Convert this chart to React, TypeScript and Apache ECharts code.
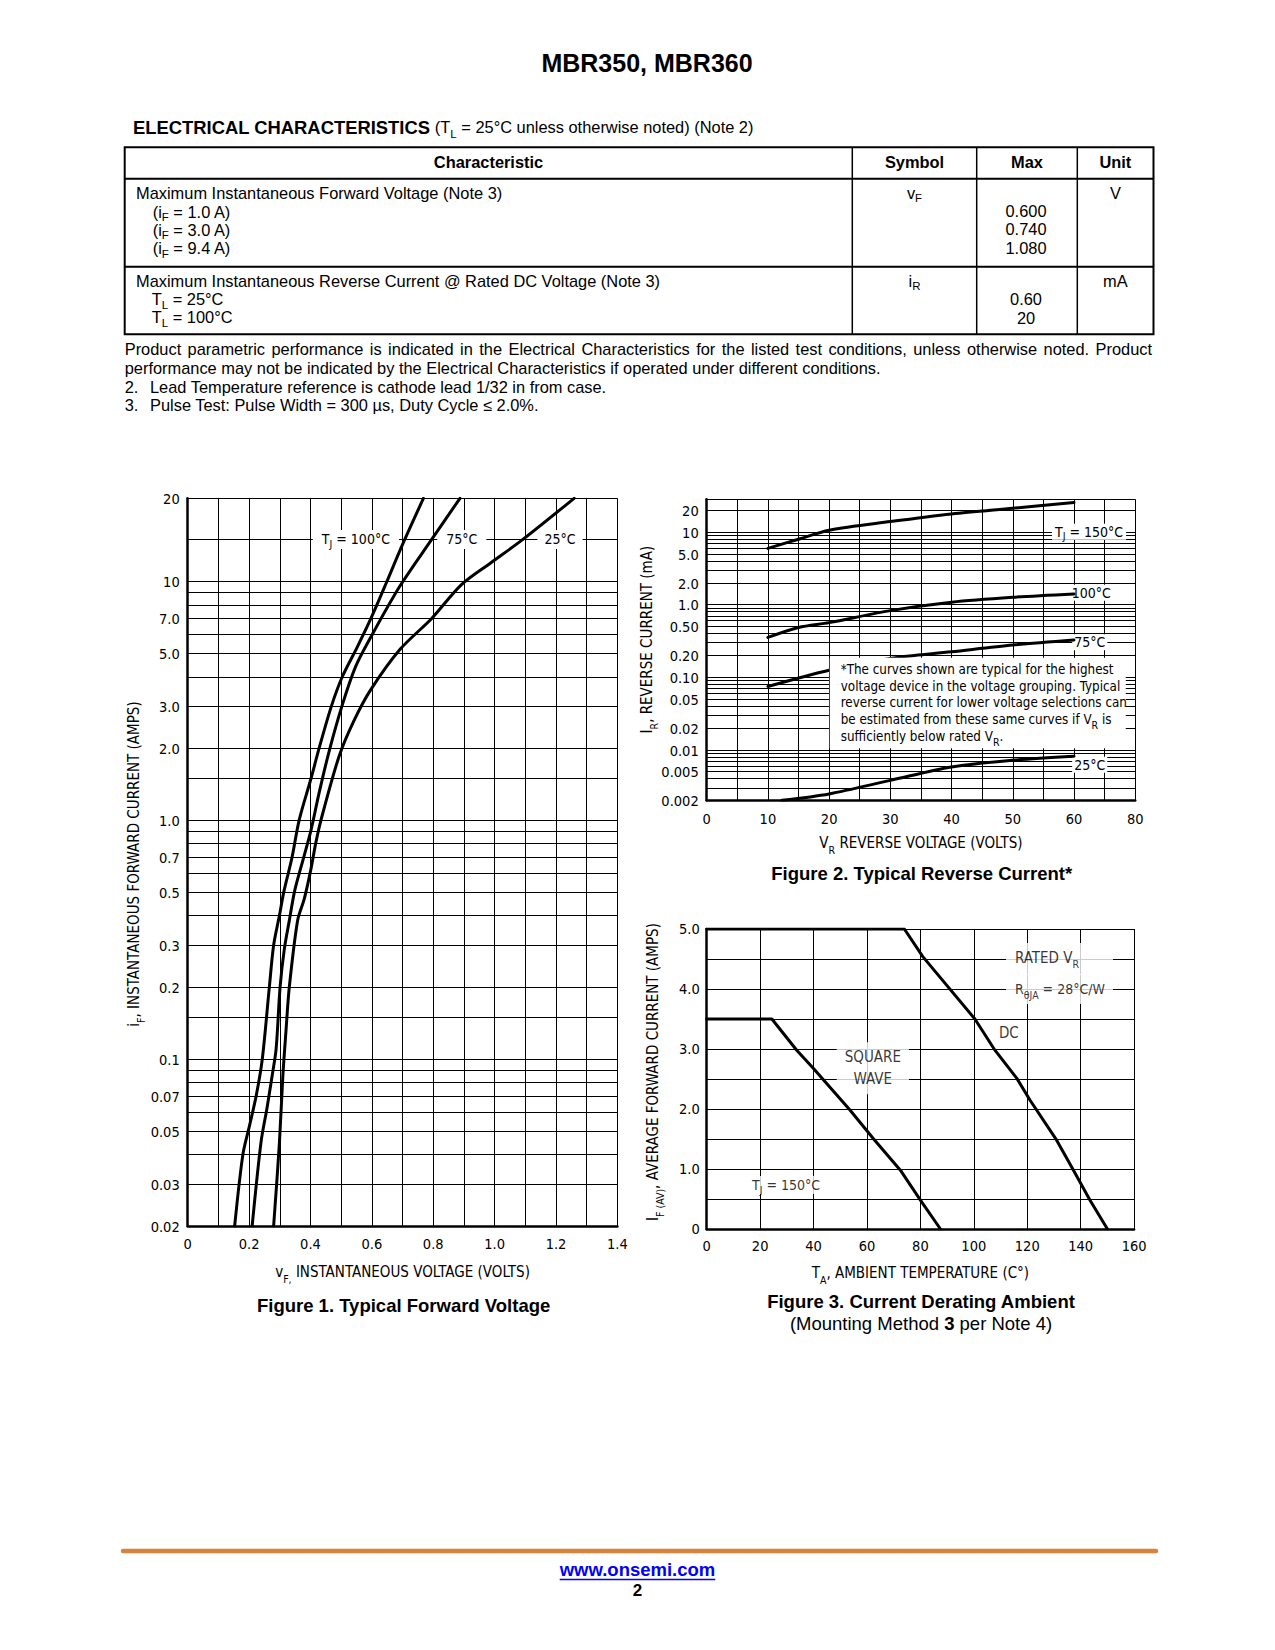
import React, { useEffect, useRef } from "react";
import * as echarts from "echarts";

const SANS = "'Liberation Sans', Arial, Helvetica, sans-serif";
const NARROW = "'DejaVu Sans Condensed', 'Liberation Sans', sans-serif";
const TICK_SIZE = 14.5;
const NOTE_SIZE = 14;
const BOX_NOTE_SIZE = 13.3;
const TITLE_SIZE = 15;

// ---------- Figure 1: Typical Forward Voltage ----------
const fwdVoltTickLabels = ["0", "0.2", "0.4", "0.6", "0.8", "1.0", "1.2", "1.4"];
const fwdCurrAxisTop = 22.3; // top border of the printed grid (labelled "20")
const fwdCurrGridValues = [0.02, 0.03, 0.04, 0.05, 0.06, 0.07, 0.08, 0.09, 0.1, 0.15, 0.2, 0.3, 0.4, 0.5, 0.6, 0.7, 0.8, 0.9, 1, 1.5, 2, 3, 4, 5, 6, 7, 8, 9, 10, 15, fwdCurrAxisTop];
const fwdCurrTickValues = [fwdCurrAxisTop, 10, 7, 5, 3, 2, 1, 0.7, 0.5, 0.3, 0.2, 0.1, 0.07, 0.05, 0.03, 0.02];
const fwdCurrTickLabels = ["20", "10", "7.0", "5.0", "3.0", "2.0", "1.0", "0.7", "0.5", "0.3", "0.2", "0.1", "0.07", "0.05", "0.03", "0.02"];
const vfTj100 = [[0.153, 0.02], [0.18, 0.04], [0.202, 0.053], [0.223, 0.07], [0.243, 0.1], [0.266, 0.2], [0.28, 0.3], [0.299, 0.4], [0.313, 0.5], [0.34, 0.7], [0.363, 1.0], [0.402, 1.5], [0.428, 2], [0.468, 3], [0.504, 4], [0.552, 5.3], [0.597, 7], [0.649, 10], [0.698, 14.1], [0.768, 22.3]];
const vfTj75 = [[0.21, 0.02], [0.239, 0.045], [0.258, 0.062], [0.275, 0.085], [0.288, 0.11], [0.301, 0.2], [0.315, 0.29], [0.331, 0.38], [0.349, 0.51], [0.378, 0.7], [0.401, 0.9], [0.428, 1.3], [0.461, 1.95], [0.504, 3.05], [0.547, 4.4], [0.595, 5.8], [0.69, 9.5], [0.795, 15], [0.887, 22.3]];
const vfTj25 = [[0.28, 0.02], [0.299, 0.045], [0.31, 0.085], [0.32, 0.13], [0.331, 0.2], [0.358, 0.38], [0.38, 0.47], [0.401, 0.62], [0.417, 0.8], [0.434, 1.0], [0.493, 1.85], [0.541, 2.6], [0.595, 3.5], [0.692, 5.2], [0.795, 7], [0.892, 9.7], [0.989, 12], [1.092, 15], [1.259, 22.3]];

// ---------- Figure 2: Typical Reverse Current ----------
const revVoltTickValues = [0, 10, 20, 30, 40, 50, 60, 70];
const revVoltTickLabels = ["0", "10", "20", "30", "40", "50", "60", "80"];
const revCurrAxisTop = 28;
const revCurrGridValues = [0.002, 0.003, 0.004, 0.005, 0.006, 0.007, 0.008, 0.009, 0.01, 0.02, 0.03, 0.04, 0.05, 0.06, 0.07, 0.08, 0.09, 0.1, 0.2, 0.3, 0.4, 0.5, 0.6, 0.7, 0.8, 0.9, 1, 2, 3, 4, 5, 6, 7, 8, 9, 10, 20, revCurrAxisTop];
const revCurrTickValues = [20, 10, 5, 2, 1, 0.5, 0.2, 0.1, 0.05, 0.02, 0.01, 0.005, 0.002];
const revCurrTickLabels = ["20", "10", "5.0", "2.0", "1.0", "0.50", "0.20", "0.10", "0.05", "0.02", "0.01", "0.005", "0.002"];
const irTj150 = [[10, 5.9], [15, 7.9], [20, 10.5], [30, 13.8], [40, 17.6], [50, 21.1], [60, 25.3]];
const irTj100 = [[10, 0.35], [15, 0.48], [20, 0.56], [30, 0.82], [40, 1.07], [50, 1.25], [60, 1.39]];
const irTj75 = [[10, 0.074], [20, 0.124], [30, 0.18], [40, 0.222], [50, 0.275], [60, 0.323]];
const irTj25 = [[12.3, 0.002], [20, 0.00245], [30, 0.00376], [40, 0.00575], [50, 0.00713], [60, 0.0081]];

// ---------- Figure 3: Current Derating, Ambient ----------
const derateCurrTickLabels = ["0", "1.0", "2.0", "3.0", "4.0", "5.0"];
const derateDC = [[0, 5], [74, 5], [80.9, 4.54], [100.4, 3.5], [107.9, 2.98], [116.1, 2.51], [121, 2.15], [131, 1.48], [137.3, 0.98], [143.5, 0.48], [150, 0]];
const derateSquare = [[0, 3.5], [24.4, 3.5], [33.7, 2.98], [39.9, 2.68], [53.7, 1.98], [62.5, 1.5], [72.5, 0.98], [80, 0.48], [87.5, 0]];

// z-order of the layers inside the plots
const Z_GRID = 1;
const Z_LABEL = 10;
const Z_CURVE = 12;
const Z_NOTE = 14;

let measureCtx: CanvasRenderingContext2D | null = null;
function textWidth(s: string, font: string): number {
  if (!measureCtx) measureCtx = document.createElement("canvas").getContext("2d");
  if (!measureCtx) return s.length * 8;
  measureCtx.font = font;
  return measureCtx.measureText(s).width;
}

const narrowRich = { s: { fontFamily: NARROW, fontSize: 10.5, color: "#000", verticalAlign: "bottom", padding: [0, 0, -2, 0] } };

function T(x: number, y: number, text: string, o: any = {}) {
  return {
    type: "text",
    x,
    y,
    silent: true,
    rotation: o.rot || 0,
    style: {
      text,
      fill: o.fill || "#000",
      fontFamily: o.family || SANS,
      fontSize: o.size || 16.4,
      fontWeight: o.weight || "normal",
      align: o.align || "left",
      textAlign: o.align || "left",
      verticalAlign: "middle",
      textVerticalAlign: "middle",
      lineHeight: o.lh,
      rich: o.rich,
    },
  };
}

const tblRich = {
  s: { fontFamily: SANS, fontSize: 11.5, fill: "#000", verticalAlign: "bottom", padding: [0, 0, -1.5, 0] },
  b: { fontFamily: SANS, fontSize: 18.4, fontWeight: "bold", fill: "#000" },
};
const axRich = {
  s: { fontFamily: NARROW, fontSize: 10.5, fill: "#000", verticalAlign: "bottom", padding: [0, 0, -2, 0] },
};
const capRich = { b: { fontFamily: SANS, fontSize: 18.5, fontWeight: "bold", fill: "#000" } };

function justified(x0: number, x1: number, y: number, text: string, size: number) {
  const font = `${size}px ${SANS}`;
  const natural = textWidth(text, font);
  if (natural >= x1 - x0 - 1) return [T(x0, y, text, { size })];
  const words = text.split(" ");
  const widths = words.map((w) => textWidth(w, font));
  const total = widths.reduce((a, b) => a + b, 0);
  const gap = (x1 - x0 - total) / (words.length - 1);
  let x = x0;
  return words.map((w, i) => {
    const el = T(x, y, w, { size });
    x += widths[i] + gap;
    return el;
  });
}

// Horizontal (log-scale) grid lines and their tick labels, placed through the y axis scale.
function gridLines(xi: number, xMin: number, values: number[], tickValues: number[], tickLabels: string[]) {
  return {
    type: "custom",
    xAxisIndex: xi,
    yAxisIndex: xi,
    z: Z_GRID,
    silent: true,
    clip: false,
    data: values.map((v) => [xMin, v]),
    renderItem: (params: any, api: any) => {
      const cs = params.coordSys;
      const v = api.value(1);
      const y = Math.round(api.coord([xMin, v])[1]) + 0.5;
      const k = tickValues.indexOf(v);
      const children: any[] = [
        { type: "line", silent: true, z2: 0, shape: { x1: cs.x, y1: y, x2: cs.x + cs.width, y2: y }, style: { stroke: "#000", lineWidth: 1 } },
      ];
      if (k >= 0) {
        children.push({
          type: "text",
          silent: true,
          x: cs.x - 8,
          y,
          style: {
            text: tickLabels[k],
            fill: "#000",
            fontFamily: NARROW,
            fontSize: TICK_SIZE,
            textAlign: "right",
            align: "right",
            textVerticalAlign: "middle",
            verticalAlign: "middle",
          },
        });
      }
      return { type: "group", children };
    },
  };
}

// White-backed annotation texts placed at data coordinates (custom series, own z layer).
function annotBoxes(xi: number, z: number, items: any[]) {
  return {
    type: "custom",
    xAxisIndex: xi,
    yAxisIndex: xi,
    z,
    silent: true,
    clip: false,
    data: items.map((it) => it.at),
    renderItem: (params: any, api: any) => {
      const it = items[params.dataIndex];
      const p = api.coord([api.value(0), api.value(1)]);
      const size = it.size || NOTE_SIZE;
      return {
        type: "text",
        silent: true,
        z2: 100,
        x: p[0],
        y: p[1],
        style: {
          text: it.text,
          fill: "#000",
          fontFamily: NARROW,
          fontSize: size,
          align: it.align || "center",
          textAlign: it.align || "center",
          verticalAlign: it.valign || "middle",
          textVerticalAlign: it.valign || "middle",
          backgroundColor: "#fff",
          textBackgroundColor: "#fff",
          padding: it.pad || [1, 6, 1, 6],
          textPadding: it.pad || [1, 6, 1, 6],
          lineHeight: it.lh || 17,
          textLineHeight: it.lh || 17,
          width: it.width,
          rich: { s: { fontFamily: NARROW, fontSize: 10.5, fill: "#000", textFill: "#000", verticalAlign: "bottom", textVerticalAlign: "bottom", padding: [0, 0, -2, 0], textPadding: [0, 0, -2, 0] } },
        },
      };
    },
  };
}

function curve(xi: number, data: number[][], smooth: number | boolean) {
  return {
    type: "line",
    xAxisIndex: xi,
    yAxisIndex: xi,
    data,
    z: Z_CURVE,
    silent: true,
    symbol: "none",
    showSymbol: false,
    smooth,
    lineStyle: { color: "#000", width: 3, cap: "round", join: "round" },
  };
}

function annotations(xi: number, z: number, items: any[]) {
  return {
    type: "scatter",
    xAxisIndex: xi,
    yAxisIndex: xi,
    symbolSize: 0,
    z,
    silent: true,
    data: items.map((it) => ({
      value: it.at,
      label: {
        formatter: it.text,
        align: it.align || "center",
        verticalAlign: it.valign || "middle",
        padding: it.pad || [1, 6, 1, 6],
        lineHeight: it.lh || 17,
        width: it.width,
        fontSize: it.size || NOTE_SIZE,
      },
    })),
    label: {
      show: true,
      position: "inside",
      color: "#000",
      fontFamily: NARROW,
      fontSize: NOTE_SIZE,
      backgroundColor: "#fff",
      rich: narrowRich,
    },
  };
}

function axisLineStyle() {
  return { show: true, onZero: false, lineStyle: { color: "#000", width: 2.5 } };
}

function buildOption() {
  const split = { show: true, lineStyle: { color: "#000", width: 1, type: "solid" } };
  const tickLbl = { color: "#000", fontFamily: NARROW, fontSize: TICK_SIZE };
  const nameStyle = { color: "#000", fontFamily: NARROW, fontSize: TITLE_SIZE, lineHeight: 20, rich: narrowRich };

  const graphic: any[] = [
    T(647, 62.5, "MBR350, MBR360", { size: 25, weight: "bold", align: "center" }),
    T(133, 127.3, "{b|ELECTRICAL CHARACTERISTICS} (T{s|L} = 25°C unless otherwise noted) (Note 2)", { rich: tblRich, lh: 22 }),
    { type: "rect", silent: true, shape: { x: 124.7, y: 147.3, width: 1028.8, height: 187 }, style: { fill: "none", stroke: "#000", lineWidth: 2 } },
    { type: "line", silent: true, shape: { x1: 124.7, y1: 178.7, x2: 1153.5, y2: 178.7 }, style: { stroke: "#000", lineWidth: 2 } },
    { type: "line", silent: true, shape: { x1: 124.7, y1: 266.7, x2: 1153.5, y2: 266.7 }, style: { stroke: "#000", lineWidth: 2 } },
    { type: "line", silent: true, shape: { x1: 852.3, y1: 147.3, x2: 852.3, y2: 334.3 }, style: { stroke: "#000", lineWidth: 1.5 } },
    { type: "line", silent: true, shape: { x1: 976.7, y1: 147.3, x2: 976.7, y2: 334.3 }, style: { stroke: "#000", lineWidth: 1.5 } },
    { type: "line", silent: true, shape: { x1: 1077.3, y1: 147.3, x2: 1077.3, y2: 334.3 }, style: { stroke: "#000", lineWidth: 1.5 } },
    T(488.5, 161.5, "Characteristic", { weight: "bold", align: "center" }),
    T(914.5, 161.5, "Symbol", { weight: "bold", align: "center" }),
    T(1027, 161.5, "Max", { weight: "bold", align: "center" }),
    T(1115.4, 161.5, "Unit", { weight: "bold", align: "center" }),
    T(136, 192.7, "Maximum Instantaneous Forward Voltage (Note 3)"),
    T(152.7, 211.5, "(i{s|F} = 1.0 A)", { rich: tblRich, lh: 20 }),
    T(152.7, 229.8, "(i{s|F} = 3.0 A)", { rich: tblRich, lh: 20 }),
    T(152.7, 248, "(i{s|F} = 9.4 A)", { rich: tblRich, lh: 20 }),
    T(914.5, 192.7, "v{s|F}", { rich: tblRich, lh: 20, align: "center" }),
    T(1026, 211, "0.600", { align: "center" }),
    T(1026, 229.3, "0.740", { align: "center" }),
    T(1026, 247.7, "1.080", { align: "center" }),
    T(1115.4, 192.7, "V", { align: "center" }),
    T(136, 280.7, "Maximum Instantaneous Reverse Current @ Rated DC Voltage (Note 3)"),
    T(151.7, 299.3, "T{s|L} = 25°C", { rich: tblRich, lh: 20 }),
    T(151.7, 317.3, "T{s|L} = 100°C", { rich: tblRich, lh: 20 }),
    T(914.5, 280.7, "i{s|R}", { rich: tblRich, lh: 20, align: "center" }),
    T(1026, 299, "0.60", { align: "center" }),
    T(1026, 317.5, "20", { align: "center" }),
    T(1115.4, 280.7, "mA", { align: "center" }),
    ...justified(124.7, 1152, 348.5, "Product parametric performance is indicated in the Electrical Characteristics for the listed test conditions, unless otherwise noted. Product", 16.4),
    T(124.7, 367.5, "performance may not be indicated by the Electrical Characteristics if operated under different conditions."),
    T(124.7, 386.5, "2."),
    T(150, 386.5, "Lead Temperature reference is cathode lead 1/32 in from case."),
    T(124.7, 405, "3."),
    T(150, 405, "Pulse Test: Pulse Width = 300 µs, Duty Cycle ≤ 2.0%."),
    // axis titles (vertical)
    T(134, 864, "i{s|F}, INSTANTANEOUS FORWARD CURRENT (AMPS)", { family: NARROW, size: TITLE_SIZE, align: "center", rot: Math.PI / 2, lh: 20, rich: axRich }),
    T(647, 639.6, "I{s|R}, REVERSE CURRENT (mA)", { family: NARROW, size: TITLE_SIZE, align: "center", rot: Math.PI / 2, lh: 20, rich: axRich }),
    T(653.3, 1072, "I{s|F (AV)}, AVERAGE FORWARD CURRENT (AMPS)", { family: NARROW, size: TITLE_SIZE, align: "center", rot: Math.PI / 2, lh: 20, rich: axRich }),
    // captions
    T(403.6, 1305.5, "Figure 1. Typical Forward Voltage", { size: 18.5, weight: "bold", align: "center" }),
    T(921.7, 873, "Figure 2. Typical Reverse Current*", { size: 18.5, weight: "bold", align: "center" }),
    T(921, 1301.3, "Figure 3. Current Derating Ambient", { size: 18.5, weight: "bold", align: "center" }),
    T(921, 1323.5, "(Mounting Method {b|3} per Note 4)", { size: 18.5, align: "center", rich: capRich, lh: 22 }),
    // footer
    { type: "line", silent: true, shape: { x1: 123, y1: 1551, x2: 1156, y2: 1551 }, style: { stroke: "#D9823B", lineWidth: 4.5, lineCap: "round" } },
    T(637.5, 1569, "www.onsemi.com", { size: 18.5, weight: "bold", align: "center", fill: "#0000FF" }),
    T(637.5, 1590, "2", { size: 17, weight: "bold", align: "center" }),
  ];
  const linkW = textWidth("www.onsemi.com", `bold 18.5px ${SANS}`);
  graphic.push({ type: "line", silent: true, shape: { x1: 637.5 - linkW / 2, y1: 1579.5, x2: 637.5 + linkW / 2, y2: 1579.5 }, style: { stroke: "#0000FF", lineWidth: 1.5 } });

  return {
    animation: false,
    backgroundColor: "#fff",
    grid: [
      { left: 187.7, top: 498.3, width: 429.7, height: 727.7, containLabel: false, outerBoundsMode: "none" },
      { left: 706.7, top: 499.3, width: 428.5, height: 301, containLabel: false, outerBoundsMode: "none" },
      { left: 706.7, top: 929, width: 427.4, height: 300, containLabel: false, outerBoundsMode: "none" },
    ],
    xAxis: [
      {
        gridIndex: 0, type: "value", min: 0, max: 1.4, interval: 0.1,
        axisLine: axisLineStyle(), axisTick: { show: false }, splitLine: split,
        axisLabel: {
          ...tickLbl, margin: 10, showMinLabel: true, showMaxLabel: true,
          formatter: (v: number) => {
            const i = Math.round(v * 10);
            return i % 2 === 0 ? fwdVoltTickLabels[i / 2] || "" : "";
          },
        },
        name: "v{s|F,} INSTANTANEOUS VOLTAGE (VOLTS)", nameLocation: "middle", nameGap: 36, nameTextStyle: nameStyle,
      },
      {
        gridIndex: 1, type: "value", min: 0, max: 70, interval: 5,
        axisLine: axisLineStyle(), axisTick: { show: false }, splitLine: split,
        axisLabel: {
          ...tickLbl, margin: 11, showMinLabel: true, showMaxLabel: true,
          formatter: (v: number) => {
            const k = revVoltTickValues.indexOf(Math.round(v));
            return Math.abs(v - Math.round(v)) < 1e-6 && k >= 0 ? revVoltTickLabels[k] : "";
          },
        },
        name: "V{s|R} REVERSE VOLTAGE (VOLTS)", nameLocation: "middle", nameGap: 33, nameTextStyle: nameStyle,
      },
      {
        gridIndex: 2, type: "value", min: 0, max: 160, interval: 20,
        axisLine: axisLineStyle(), axisTick: { show: false }, splitLine: split,
        axisLabel: { ...tickLbl, margin: 9, showMinLabel: true, showMaxLabel: true },
        name: "T{s|A}, AMBIENT TEMPERATURE (C°)", nameLocation: "middle", nameGap: 34, nameTextStyle: nameStyle,
      },
    ],
    yAxis: [
      {
        gridIndex: 0, type: "log", logBase: 10, min: 0.02, max: fwdCurrAxisTop,
        axisLine: axisLineStyle(), axisTick: { show: false }, splitLine: { show: false }, minorTick: { show: false }, minorSplitLine: { show: false },
        axisLabel: { show: false },
      },
      {
        gridIndex: 1, type: "log", logBase: 10, min: 0.002, max: revCurrAxisTop,
        axisLine: axisLineStyle(), axisTick: { show: false }, splitLine: { show: false }, minorTick: { show: false }, minorSplitLine: { show: false },
        axisLabel: { show: false },
      },
      {
        gridIndex: 2, type: "value", min: 0, max: 5, interval: 0.5,
        axisLine: axisLineStyle(), axisTick: { show: false }, splitLine: split,
        axisLabel: {
          ...tickLbl, margin: 7, showMinLabel: true, showMaxLabel: true,
          formatter: (v: number) => {
            const i = Math.round(v * 2);
            return i % 2 === 0 ? derateCurrTickLabels[i / 2] || "" : "";
          },
        },
      },
    ],
    series: [
      gridLines(0, 0, fwdCurrGridValues, fwdCurrTickValues, fwdCurrTickLabels),
      curve(0, vfTj100, 0.3),
      curve(0, vfTj75, 0.3),
      curve(0, vfTj25, 0.3),
      annotBoxes(0, Z_LABEL, [
        { at: [0.548, 15], text: "T{s|J} = 100°C", pad: [1, 9, 1, 9] },
        { at: [0.893, 15], text: "75°C", pad: [1, 9, 1, 9] },
        { at: [1.213, 15], text: "25°C", pad: [1, 7, 1, 7] },
      ]),

      gridLines(1, 0, revCurrGridValues, revCurrTickValues, revCurrTickLabels),
      curve(1, irTj150, 0.3),
      curve(1, irTj100, 0.3),
      curve(1, irTj75, 0.3),
      curve(1, irTj25, 0.3),
      annotBoxes(1, Z_LABEL, [
        { at: [56.4, 10], text: "T{s|J} = 150°C", align: "left", pad: [0, 3, 0, 3], lh: 16 },
        { at: [59.3, 1.45], text: "100°C", align: "left", pad: [0, 2, 0, 2], lh: 16 },
        { at: [59.7, 0.3], text: "75°C", align: "left", pad: [0, 2, 0, 2], lh: 16 },
        { at: [59.7, 0.0062], text: "25°C", align: "left", pad: [0, 2, 0, 2], lh: 16 },
      ]),
      annotBoxes(1, Z_NOTE, [
        {
          at: [20.1, 0.184],
          text: "*The curves shown are typical for the highest\nvoltage device in the voltage grouping. Typical\nreverse current for lower voltage selections can\nbe estimated from these same curves if V{s|R} is\nsufficiently below rated V{s|R}.",
          align: "left", valign: "top", pad: [3, 4, 3, 11], lh: 16.9, width: 281, size: BOX_NOTE_SIZE,
        },
      ]),

      curve(2, derateDC, false),
      curve(2, derateSquare, false),
      annotations(2, Z_LABEL, [
        { at: [112.05, 4.5], text: "RATED V{s|R}", align: "left", pad: [6, 0, 8, 9], lh: 18, width: 98, size: TITLE_SIZE },
        { at: [112.05, 4.0], text: "R{s|θJA} = 28°C/W", align: "left", pad: [6, 0, 6, 9], lh: 18, width: 98 },
        { at: [113.1, 3.26], text: "DC", pad: [1, 3, 1, 3], lh: 16, size: TITLE_SIZE },
        { at: [62.2, 2.68], text: "SQUARE\nWAVE", pad: [4, 8, 4, 8], lh: 22, size: TITLE_SIZE },
        { at: [29.7, 0.733], text: "T{s|J} = 150°C", pad: [1, 3, 1, 3], lh: 16 },
      ]),
    ],
    graphic: { elements: graphic },
  };
}

export default function App() {
  const ref = useRef<HTMLDivElement>(null);
  useEffect(() => {
    const el = ref.current;
    if (!el) return;
    const chart = echarts.init(el, undefined, { renderer: "svg" });
    chart.setOption(buildOption() as any);
    return () => chart.dispose();
  }, []);
  return <div ref={ref} style={{ position: "absolute", left: 0, top: 0, width: 1275, height: 1650, background: "#fff" }} />;
}
